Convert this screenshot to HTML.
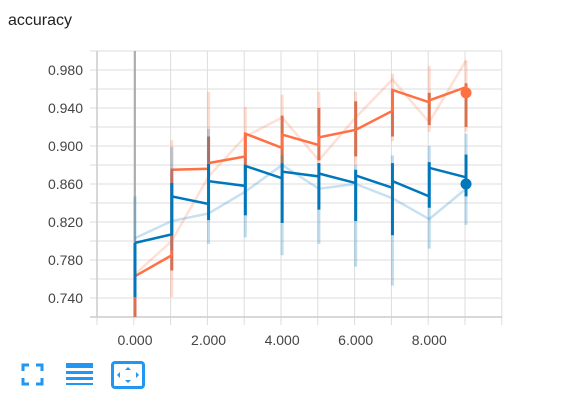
<!DOCTYPE html>
<html><head><meta charset="utf-8"><style>
body{margin:0;background:#fff;width:569px;height:409px;overflow:hidden;font-family:"Liberation Sans",sans-serif}
#title{position:absolute;left:8px;top:12px;font-size:16px;color:#212121}
svg{position:absolute;left:0;top:0}
</style></head><body>
<div id="title">accuracy</div>
<svg id="chart" width="569" height="409"></svg>
<script>
const steps=[0,1,2,3,4,5,6,7,8,9];
const yTicks=[0.74,0.78,0.82,0.86,0.90,0.94,0.98];
const xTicks=[0,2,4,6,8];
const orangeIn=[0.763,0.785,0.876,0.889,0.898,0.901,0.917,0.937,0.946,0.962];
const orangeOut=[0.763,0.875,0.882,0.913,0.912,0.909,0.917,0.959,0.948,0.956];
const orangeBandLo=[0.720,0.769,0.868,0.871,0.882,0.885,0.889,0.910,0.922,0.920];
const orangeBandHi=[0.763,0.875,0.910,0.913,0.932,0.940,0.947,0.959,0.956,0.966];
const orangeFaintLo=[0.720,0.741,0.860,0.865,0.875,0.880,0.880,0.905,0.915,0.915];
const orangeFaintHi=[0.765,0.906,0.957,0.941,0.954,0.957,0.957,0.976,0.984,0.990];
const orangeRaw=[0.765,0.800,0.868,0.910,0.930,0.885,0.930,0.970,0.925,0.990];
const blueIn=[0.798,0.807,0.839,0.858,0.866,0.868,0.861,0.856,0.847,0.867];
const blueOut=[0.798,0.847,0.863,0.879,0.873,0.871,0.869,0.863,0.877,0.860];
const blueBandLo=[0.741,0.806,0.822,0.827,0.819,0.833,0.821,0.806,0.835,0.847];
const blueBandHi=[0.798,0.861,0.881,0.880,0.882,0.882,0.875,0.882,0.883,0.891];
const blueFaintLo=[0.741,0.790,0.797,0.804,0.785,0.797,0.773,0.753,0.792,0.817];
const blueFaintHi=[0.847,0.899,0.918,0.880,0.890,0.882,0.880,0.890,0.900,0.913];
const blueRaw=[0.803,0.821,0.829,0.852,0.880,0.855,0.860,0.845,0.823,0.855];

const X=s=>135+s*36.78;
const Y=v=>70+(0.98-v)/0.02*19;
const svg=document.getElementById('chart');
const NS='http://www.w3.org/2000/svg';
function mk(tag,attrs,parent){const e=document.createElementNS(NS,tag);for(const k in attrs)e.setAttribute(k,attrs[k]);(parent||svg).appendChild(e);return e;}

// grid
for(let i=0;i<15;i++){const y=51+i*19;const l=mk('line',{x1:90,x2:502,y1:y,y2:y,stroke:'#ddd','stroke-width':1});
}
for(let i=0;i<12;i++){const x=97+i*36.8;const l=mk('line',{x1:x,x2:x,y1:51,y2:325,stroke:'#ddd','stroke-width':1});
}
const ax=mk('line',{x1:97,x2:97,y1:51,y2:317,stroke:'#ccc','stroke-width':1.5});

const bx=mk('line',{x1:90,x2:502,y1:317,y2:317,stroke:'#ccc','stroke-width':1.5});

const zl=mk('line',{x1:X(0),x2:X(0),y1:51,y2:317,stroke:'#999','stroke-width':1.5});


yTicks.forEach(v=>{const t=mk('text',{x:83,y:Y(v)+5,'text-anchor':'end','font-size':14,fill:'#444'});t.textContent=v.toFixed(3);
});
xTicks.forEach(v=>{const t=mk('text',{x:X(v),y:345,'text-anchor':'middle','font-size':14,fill:'#444'});t.textContent=v.toFixed(3);
});

function series(name,col,dark,inV,outV,lo,hi,flo,fhi,raw){
  const g=mk('g',{});
  steps.forEach((s,i)=>{const l=mk('line',{x1:X(s),x2:X(s),y1:Y(flo[i]),y2:Y(fhi[i]),stroke:col,'stroke-opacity':0.25,'stroke-width':3},g);
    });
  const rp=mk('polyline',{points:steps.map((s,i)=>X(s)+','+Y(raw[i])).join(' '),fill:'none',stroke:col,'stroke-opacity':0.22,'stroke-width':2.5},g);
  
  steps.forEach((s,i)=>{const l=mk('line',{x1:X(s),x2:X(s),y1:Y(lo[i]),y2:Y(hi[i]),stroke:dark,'stroke-width':3},g);
    });
  let pts=[];steps.forEach((s,i)=>{pts.push(X(s)+','+Y(inV[i]));pts.push(X(s)+','+Y(outV[i]));});
  const p=mk('polyline',{points:pts.join(' '),fill:'none',stroke:col,'stroke-width':2.5},g);
  
  const last=steps.length-1;
  const c=mk('circle',{cx:X(steps[last]),cy:Y(outV[last]),r:5.5,fill:col},g);
  
}
series('orange','#ff7043','#d9704f',orangeIn,orangeOut,orangeBandLo,orangeBandHi,orangeFaintLo,orangeFaintHi,orangeRaw);
series('blue','#0077bb','#0077bb',blueIn,blueOut,blueBandLo,blueBandHi,blueFaintLo,blueFaintHi,blueRaw);
</script>
<svg width="569" height="409" style="pointer-events:none">
<g fill="none" stroke="#2196f3" stroke-width="3">
<path d="M23 371V365H29M36 365H42V371M42 378V384H36M29 384H23V378"/></g>
<g fill="#2196f3">
<rect x="66" y="363" width="27" height="5"/><rect x="66" y="371" width="27" height="3"/><rect x="66" y="377" width="27" height="3"/><rect x="66" y="383" width="27" height="2"/></g>
<g>
<rect x="112.5" y="362.5" width="31" height="25" rx="2.5" fill="none" stroke="#2196f3" stroke-width="3"/>
<path d="M128 367l-3 3h6zM128 383l-3-3h6zM117 375l3-3v6zM139 375l-3-3v6z" fill="#2196f3"/></g>
</svg>
</body></html>
